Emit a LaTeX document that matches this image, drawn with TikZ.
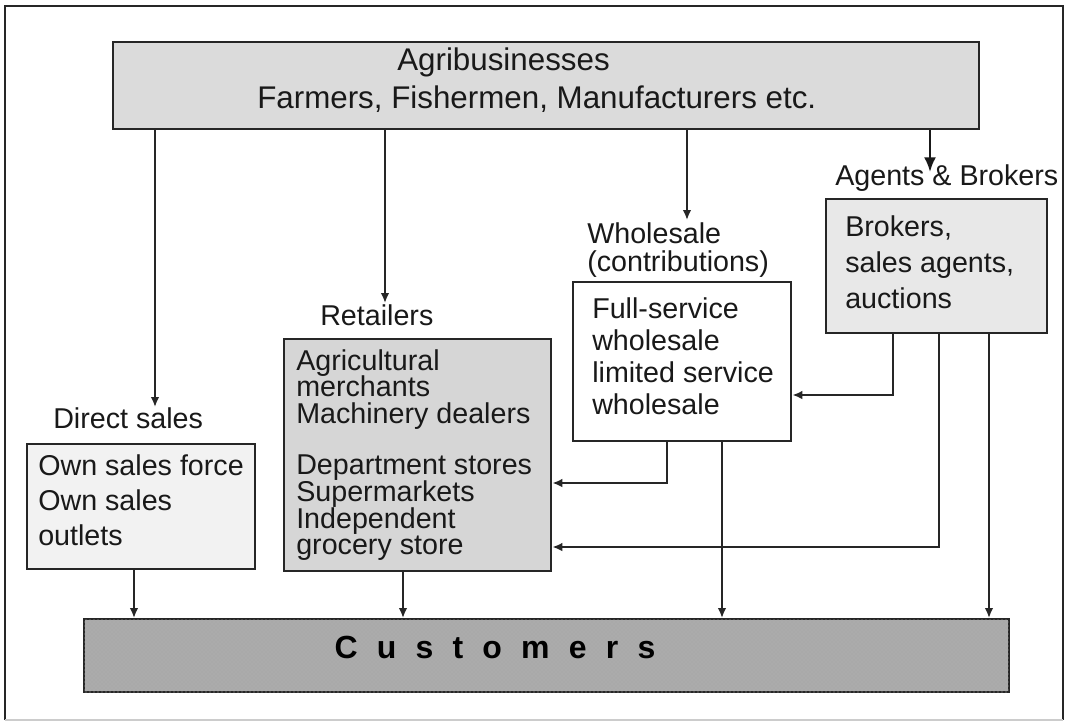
\documentclass[tikz,border=0pt]{standalone}
\usepackage{fontspec}
\setmainfont{Liberation Sans}
\usetikzlibrary{arrows.meta,patterns}
\begin{document}
\setlength{\lineskiplimit}{-30pt}
\begin{tikzpicture}[x=0.75pt,y=-0.75pt,
  box/.style={draw=black!85,line width=1.8pt,inner sep=0pt,anchor=north west},
  txt/.style={inner sep=0pt,anchor=mid west,text=black!90,
    font=\fontsize{21.5}{25}\selectfont},
  para/.style={inner sep=0pt,anchor=north west,align=left,text=black!90,
    font=\fontsize{21.5}{#1}\selectfont},
  head/.style={txt,font=\fontsize{23.5}{28}\selectfont},
  flow/.style={draw=black!85,line width=1.4pt,-{Latex[length=7.5pt,width=6.5pt]}},
  bigflow/.style={draw=black!90,line width=1.8pt,-{Latex[length=11pt,width=9pt]}},
]
% canvas and frame
\fill[white] (0,0) rectangle (1068,722);
\useasboundingbox (0,0) rectangle (1068,722);
\draw[black!85,line width=1.5pt] (5,720) -- (5,6) -- (1063,6) -- (1063,720);
\draw[black!20,line width=1.5pt] (5,720) -- (1063,720);

% boxes
\node[box,fill=black!14,minimum width=649.5pt,minimum height=65.25pt] (top) at (112,41) {};
\node[box,fill=black!5,minimum width=171pt,minimum height=93.75pt] (direct) at (26,443) {};
\node[box,fill=black!16,minimum width=200.25pt,minimum height=174pt] (retail) at (283,338) {};
\node[box,fill=white,minimum width=163.5pt,minimum height=119.25pt] (whole) at (572,281) {};
\node[box,fill=black!9,minimum width=165.75pt,minimum height=100.5pt] (agents) at (825,198) {};
\node[box,fill=black!33,postaction={pattern=crosshatch dots,pattern color=black!35},
  minimum width=693.75pt,minimum height=54.75pt] (cust) at (83,618) {};

% headings
\node[head] (title) at (397,67) {Agribusinesses};
\node[head] (subtitle) at (257,105) {Farmers, Fishermen, Manufacturers etc.};
\node[inner sep=0pt,anchor=mid,text=black,
  font=\fontsize{24}{28}\selectfont\bfseries\addfontfeatures{LetterSpace=60}]
  (custtext) at (495,655) {Customers};

% channel labels
\node[txt] (ldirect) at (53,425) {Direct sales};
\node[txt] (lretail) at (320,322) {Retailers};
\node[para=21] (lwhole) at (587,222) {Wholesale\\(contributions)};
\node[txt] (lagents) at (835,182) {Agents \& Brokers};

% box contents
\node[para=26.25] (dtext) at (38,454) {Own sales force\\Own sales\\outlets};
\node[para=19.9] (rtext1) at (296,349) {Agricultural\\merchants\\Machinery dealers};
\node[para=20] (rtext2) at (296,455) {Department stores\\Supermarkets\\Independent\\grocery store};
\node[para=24.2] (wtext) at (592,297) {Full-service\\wholesale\\limited service\\wholesale};
\node[para=27] (gtext) at (845,215) {Brokers,\\sales agents,\\auctions};

% routing points
\coordinate (c1) at (155,407);
\coordinate (c2) at (385,303);
\coordinate (c3) at (687,220);
\coordinate (c4) at (930,172);
\coordinate (a1) at (893,395);
\coordinate (a2) at (939,547);
\coordinate (a3) at (989,0);
\coordinate (v1) at (667,483);
\coordinate (v2) at (722,0);
\coordinate (p1) at (403,0);
\coordinate (p2) at (134,0);

% connectors
\draw[flow] (top.south -| c1) -- (c1);
\draw[flow] (top.south -| c2) -- (c2);
\draw[flow] (top.south -| c3) -- (c3);
\draw[bigflow] (top.south -| c4) -- (c4);
\draw[flow] (agents.south -| a1) -- (a1) -- (a1 -| whole.east);
\draw[flow] (agents.south -| a2) -- (a2) -- (a2 -| retail.east);
\draw[flow] (agents.south -| a3) -- (cust.north -| a3);
\draw[flow] (whole.south -| v1) -- (v1) -- (v1 -| retail.east);
\draw[flow] (whole.south -| v2) -- (cust.north -| v2);
\draw[flow] (retail.south -| p1) -- (cust.north -| p1);
\draw[flow] (direct.south -| p2) -- (cust.north -| p2);
\end{tikzpicture}
\end{document}
